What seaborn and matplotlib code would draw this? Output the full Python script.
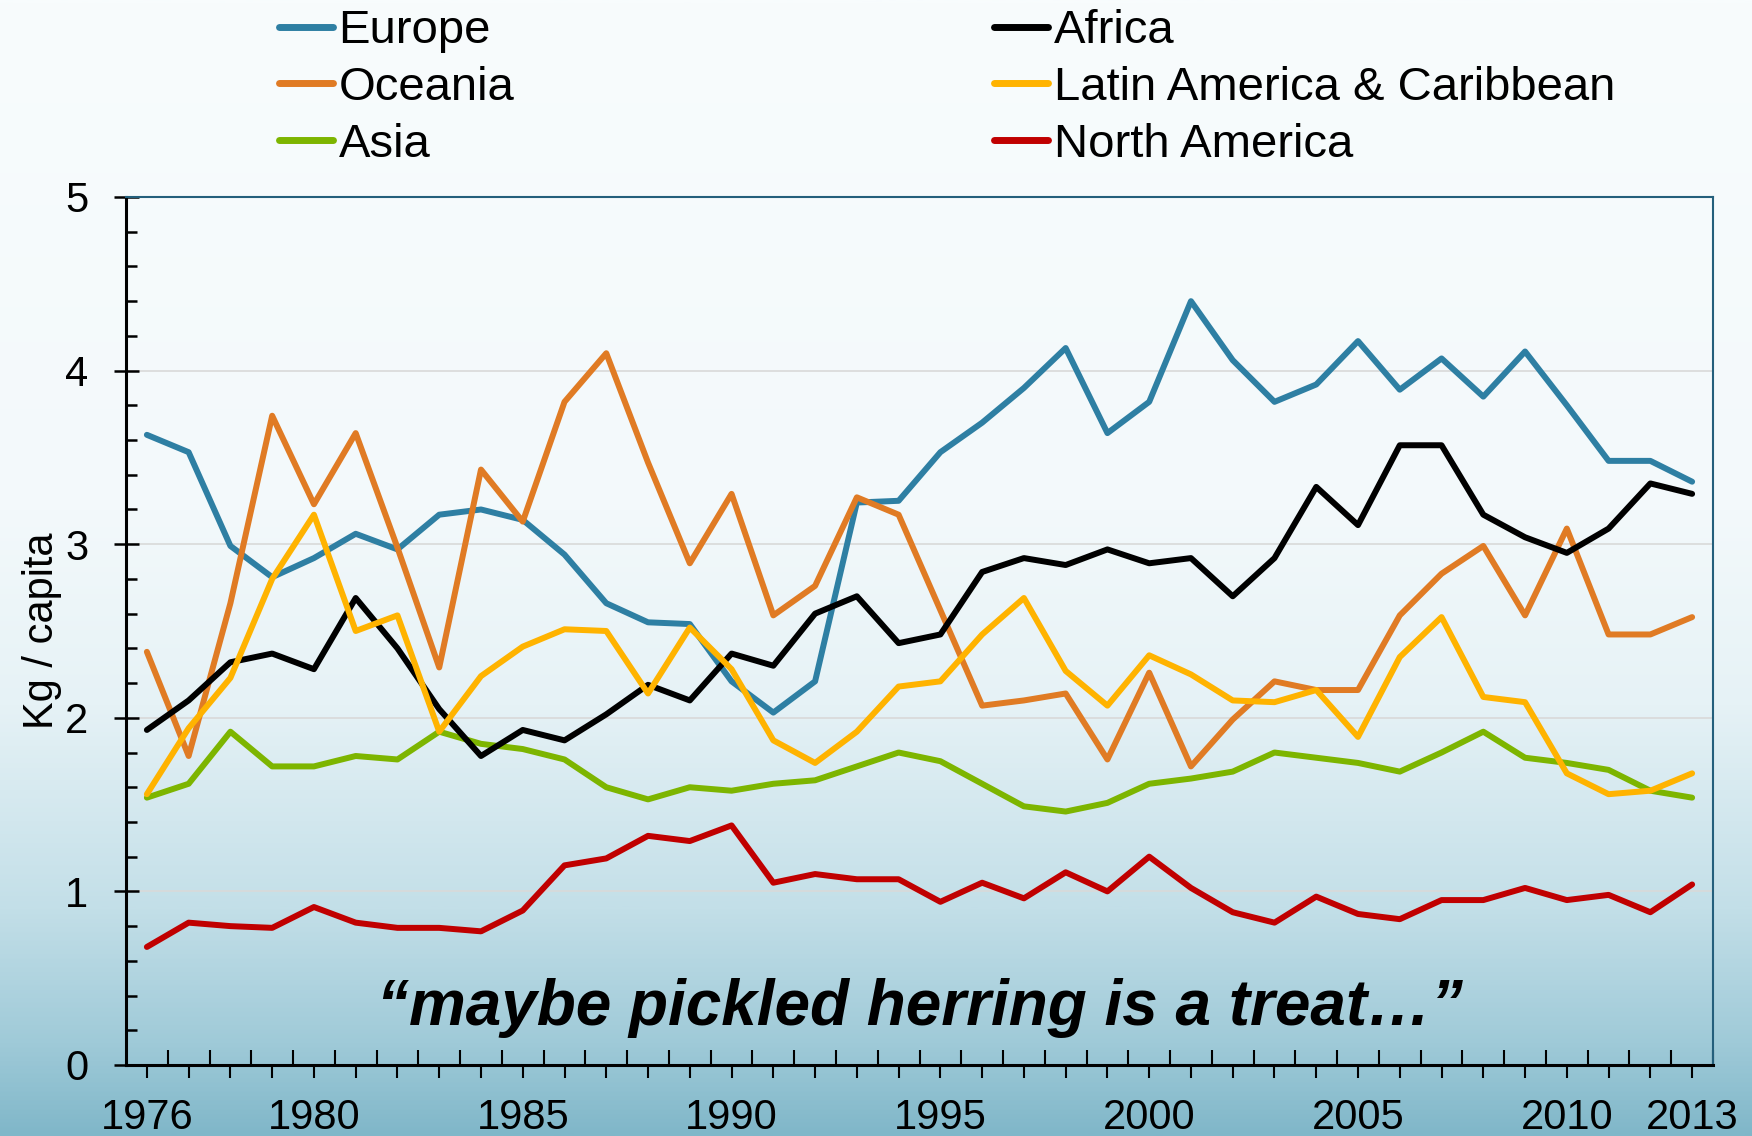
import numpy as np
import pandas as pd
import matplotlib
matplotlib.use("Agg")
import matplotlib.pyplot as plt
import seaborn as sns
from matplotlib.colors import LinearSegmentedColormap
from matplotlib.ticker import MultipleLocator, FixedLocator

years = list(range(1976, 2014))

europe = [3.63, 3.53, 2.99, 2.81, 2.92, 3.06, 2.97, 3.17, 3.20, 3.14,
          2.94, 2.66, 2.55, 2.54, 2.21, 2.03, 2.21, 3.24, 3.25, 3.53,
          3.70, 3.90, 4.13, 3.64, 3.82, 4.40, 4.06, 3.82, 3.92, 4.17,
          3.89, 4.07, 3.85, 4.11, 3.80, 3.48, 3.48, 3.36]
oceania = [2.38, 1.78, 2.66, 3.74, 3.23, 3.64, 2.98, 2.29, 3.43, 3.13,
           3.82, 4.10, 3.47, 2.89, 3.29, 2.59, 2.76, 3.27, 3.17, 2.62,
           2.07, 2.10, 2.14, 1.76, 2.26, 1.72, 1.99, 2.21, 2.16, 2.16,
           2.59, 2.83, 2.99, 2.59, 3.09, 2.48, 2.48, 2.58]
asia = [1.54, 1.62, 1.92, 1.72, 1.72, 1.78, 1.76, 1.92, 1.85, 1.82,
        1.76, 1.60, 1.53, 1.60, 1.58, 1.62, 1.64, 1.72, 1.80, 1.75,
        1.62, 1.49, 1.46, 1.51, 1.62, 1.65, 1.69, 1.80, 1.77, 1.74,
        1.69, 1.80, 1.92, 1.77, 1.74, 1.70, 1.58, 1.54]
africa = [1.93, 2.10, 2.32, 2.37, 2.28, 2.69, 2.40, 2.05, 1.78, 1.93,
          1.87, 2.02, 2.19, 2.10, 2.37, 2.30, 2.60, 2.70, 2.43, 2.48,
          2.84, 2.92, 2.88, 2.97, 2.89, 2.92, 2.70, 2.92, 3.33, 3.11,
          3.57, 3.57, 3.17, 3.04, 2.95, 3.09, 3.35, 3.29]
latin = [1.56, 1.94, 2.23, 2.80, 3.17, 2.50, 2.59, 1.92, 2.24, 2.41,
         2.51, 2.50, 2.14, 2.52, 2.28, 1.87, 1.74, 1.92, 2.18, 2.21,
         2.48, 2.69, 2.27, 2.07, 2.36, 2.25, 2.10, 2.09, 2.16, 1.89,
         2.35, 2.58, 2.12, 2.09, 1.68, 1.56, 1.58, 1.68]
north_america = [0.68, 0.82, 0.80, 0.79, 0.91, 0.82, 0.79, 0.79, 0.77, 0.89,
                 1.15, 1.19, 1.32, 1.29, 1.38, 1.05, 1.10, 1.07, 1.07, 0.94,
                 1.05, 0.96, 1.11, 1.00, 1.20, 1.02, 0.88, 0.82, 0.97, 0.87,
                 0.84, 0.95, 0.95, 1.02, 0.95, 0.98, 0.88, 1.04]

regions = ["Europe", "Oceania", "Asia", "Africa",
           "Latin America & Caribbean", "North America"]
series = [europe, oceania, asia, africa, latin, north_america]
colors = ["#2e7fa3", "#e07b24", "#7db500", "#000000", "#ffb300", "#c00000"]
year_labels = [1976, 1980, 1985, 1990, 1995, 2000, 2005, 2010, 2013]
quote = "\u201cmaybe pickled herring is a treat\u2026\u201d"

df = pd.concat([pd.DataFrame({"Year": years, "Value": v, "Region": r})
                for r, v in zip(regions, series)], ignore_index=True)

sns.set_theme(style="white")
plt.rcParams["font.family"] = ["Liberation Sans", "DejaVu Sans"]
plt.rcParams["text.color"] = "black"
plt.rcParams["axes.labelcolor"] = "black"
plt.rcParams["xtick.color"] = "black"
plt.rcParams["ytick.color"] = "black"

W, H = 1752, 1136
fig = plt.figure(figsize=(W / 100, H / 100), dpi=100)

# background gradient
bg = fig.add_axes([0, 0, 1, 1], zorder=-10)
cmap = LinearSegmentedColormap.from_list(
    "bg", [(0.0, "#f8fcfd"), (0.45, "#f3f9fb"), (0.62, "#e6f2f6"),
           (0.80, "#c3dfe8"), (0.92, "#9fcad8"), (1.0, "#80b7c9")])
grad = np.linspace(0, 1, 512).reshape(-1, 1)
bg.imshow(grad, aspect="auto", cmap=cmap, extent=[0, 1, 0, 1], origin="upper")
bg.axis("off")

ax = fig.add_axes([126 / W, 1 - 1065 / H, (1713 - 126) / W, (1065 - 197) / H])
ax.set_facecolor("none")

sns.lineplot(data=df, x="Year", y="Value", hue="Region", hue_order=regions,
             palette=dict(zip(regions, colors)), linewidth=4.3, ax=ax,
             legend=False)
for ln in ax.lines:
    ln.set_solid_capstyle("round")
    ln.set_solid_joinstyle("round")

ax.set_xlim(1975.5, 2013.5)
ax.set_ylim(0, 5)
ax.set_xlabel("")
ax.set_ylabel("Kg / capita", fontsize=30, labelpad=2, color="black")

ax.xaxis.set_major_locator(FixedLocator(years))
ax.set_xticklabels([str(y) if y in year_labels else "" for y in years])
ax.xaxis.set_minor_locator(FixedLocator([y + 0.5 for y in years]))
ax.yaxis.set_major_locator(MultipleLocator(1))
ax.yaxis.set_minor_locator(MultipleLocator(0.2))

ax.tick_params(axis="x", which="major", direction="out", length=9, width=1.5,
               color="black", labelsize=30, pad=15, bottom=True,
               labelcolor="black")
ax.tick_params(axis="x", which="minor", direction="in", length=11, width=1.5,
               color="black", bottom=True)
ax.tick_params(axis="y", which="major", direction="inout", length=18, width=1.8,
               color="black", labelsize=30, pad=18, left=True,
               labelcolor="black")
ax.tick_params(axis="y", which="minor", direction="in", length=8, width=1.8,
               color="black", left=True)

ax.grid(axis="y", which="major", color="#d9d9d9", linewidth=1.2)
ax.set_axisbelow(True)

for s in ["left", "bottom"]:
    ax.spines[s].set_color("black")
    ax.spines[s].set_linewidth(2.2)
for s in ["top", "right"]:
    ax.spines[s].set_color("#245f7c")
    ax.spines[s].set_linewidth(1.5)

handles = [plt.Line2D([], [], color=c, linewidth=5, solid_capstyle="round")
           for c in colors]
fig.legend(handles, regions, loc="upper left",
           bbox_to_anchor=(0.159, 1 - 0.008), ncol=2, frameon=False,
           fontsize=34, handlelength=1.15, handletextpad=0.12,
           columnspacing=10.15, labelspacing=0.27, borderpad=0,
           borderaxespad=0, labelcolor="black")

fig.text(920 / W, 1 - 1008 / H, quote, ha="center", va="center",
         fontsize=46, fontweight="bold", fontstyle="italic", color="black")

fig.savefig("out.png", dpi=100)
